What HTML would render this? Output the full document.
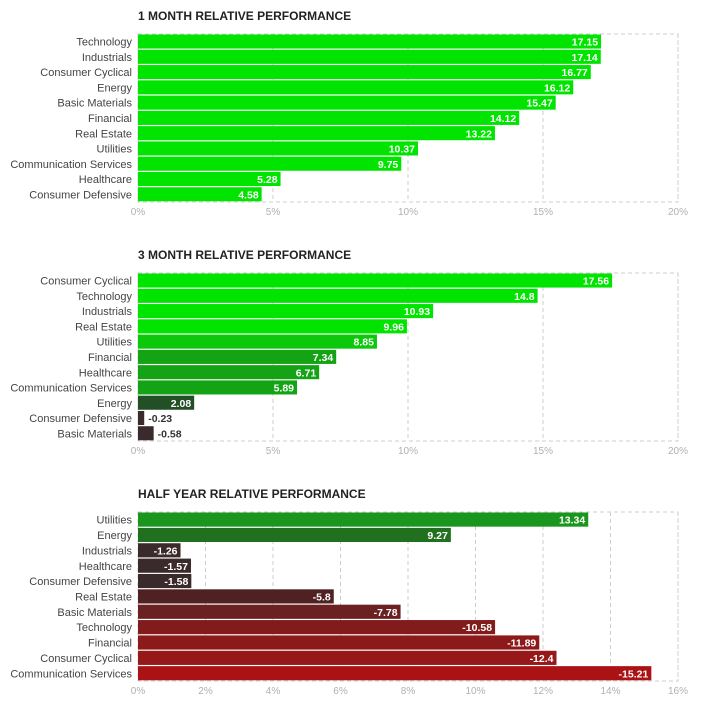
<!DOCTYPE html>
<html><head><meta charset="utf-8"><style>
body{margin:0;background:#fff;font-family:"Liberation Sans",sans-serif;}
svg{display:block}
</style></head><body>
<svg id="c" width="709" height="705"></svg>
<script>
const cats1=["Technology","Industrials","Consumer Cyclical","Energy","Basic Materials","Financial","Real Estate","Utilities","Communication Services","Healthcare","Consumer Defensive"];
const vals1=[17.15,17.14,16.77,16.12,15.47,14.12,13.22,10.37,9.75,5.28,4.58];
const cats2=["Consumer Cyclical","Technology","Industrials","Real Estate","Utilities","Financial","Healthcare","Communication Services","Energy","Consumer Defensive","Basic Materials"];
const vals2=[17.56,14.8,10.93,9.96,8.85,7.34,6.71,5.89,2.08,-0.23,-0.58];
const cats3=["Utilities","Energy","Industrials","Healthcare","Consumer Defensive","Real Estate","Basic Materials","Technology","Financial","Consumer Cyclical","Communication Services"];
const vals3=[13.34,9.27,-1.26,-1.57,-1.58,-5.8,-7.78,-10.58,-11.89,-12.4,-15.21];
const ticks1=[0,5,10,15,20];
const ticks3=[0,2,4,6,8,10,12,14,16];
const NS="http://www.w3.org/2000/svg";
const svg=document.getElementById('c');
function mk(t,a,p){const e=document.createElementNS(NS,t);for(const k in a)e.setAttribute(k,a[k]);(p||svg).appendChild(e);return e;}
function col(v,mode){
 if(mode===1)return"#00e400";
 if(mode===3){
  if(v>=12)return"#1a961e"; if(v>0)return"#20701f";
  const a=Math.abs(v);
  if(a<2)return"#3b2a2b"; if(a<6.5)return"#4f2122"; if(a<9)return"#6b2022";
  if(a<11.5)return"#821c1c"; if(a<12.2)return"#8c1a1a"; if(a<14)return"#961818"; return"#ab1214";
 }
 if(v>=9.5)return"#00e400"; if(v>=8)return"#0bc80b"; if(v>=5)return"#14a314"; if(v>0)return"#234f27"; return"#3b2a2b";
}
function chart(title,cats,vals,ticks,top,bottom,mode,name){
 const g=mk('g',{});
 
 
 const L=138,R=678,max=ticks[ticks.length-1];
 const x=v=>L+(R-L)*v/max;
 const t=mk('text',{x:138,y:top-14,'font-size':12,'font-weight':'bold',fill:'#222'},g);
 t.textContent=title;
 
 
 mk('rect',{x:L,y:top,width:R-L,height:bottom-top,fill:'none',stroke:'#ccc','stroke-dasharray':'4,3'},g);
 ticks.forEach(tv=>{
  mk('line',{x1:x(tv),x2:x(tv),y1:top,y2:bottom,stroke:'#ccc','stroke-dasharray':'4,3'},g);
  const tl=mk('text',{x:x(tv),y:bottom+13,'font-size':10,fill:'#b0b0b0','text-anchor':'middle'},g);
  tl.textContent=tv+'%';
  
  
 });
 const band=(bottom-top)/cats.length;
 cats.forEach((c,i)=>{
  const v=vals[i],y=top+i*band+0.5,w=x(Math.abs(v))-L;
  const r=mk('rect',{x:L,y:y,width:w,height:band-1.2,fill:col(v,mode)},g);
  
  
  const cl=mk('text',{x:L-6,y:y+band/2+3.5,'font-size':11,fill:'#444','text-anchor':'end'},g);
  cl.textContent=c;
  
  
  const inside=w>40;
  const vl=mk('text',{x:inside?L+w-3:L+w+4,y:y+band/2+3.5,'font-size':10.5,'font-weight':'bold',fill:inside?'#fff':'#333','text-anchor':inside?'end':'start'},g);
  vl.textContent=String(v);
  
  
 });
}
chart("1 MONTH RELATIVE PERFORMANCE",cats1,vals1,ticks1,34,202,1,'one-month-chart');
chart("3 MONTH RELATIVE PERFORMANCE",cats2,vals2,ticks1,273,441,2,'three-month-chart');
chart("HALF YEAR RELATIVE PERFORMANCE",cats3,vals3,ticks3,512,681,3,'half-year-chart');
</script>
</body></html>
